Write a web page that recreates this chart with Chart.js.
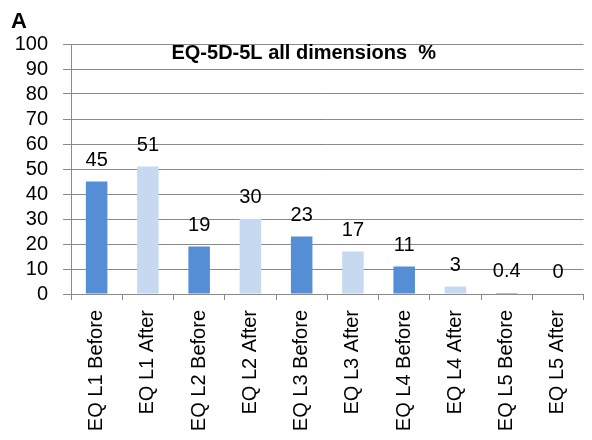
<!DOCTYPE html>
<html>
<head>
<meta charset="utf-8">
<script src="https://cdn.jsdelivr.net/npm/chart.js@4.4.1/dist/chart.umd.min.js"></script>
<style>
    html, body { margin: 0; padding: 0; background: #ffffff; }
    #wrap { width: 592px; height: 440px; position: relative; }
</style>
</head>
<body>
<div id="wrap"><canvas id="eqChart" width="592" height="440"></canvas></div>
<script>
// Chart data
const categories = [
    'EQ L1 Before', 'EQ L1 After',
    'EQ L2 Before', 'EQ L2 After',
    'EQ L3 Before', 'EQ L3 After',
    'EQ L4 Before', 'EQ L4 After',
    'EQ L5 Before', 'EQ L5 After',
]
const percentValues = [45, 51, 19, 30, 23, 17, 11, 3, 0.4, 0]
const valueLabels = ['45', '51', '19', '30', '23', '17', '11', '3', '0.4', '0']
const yTicks = [0, 10, 20, 30, 40, 50, 60, 70, 80, 90, 100]
const chartTitle = 'EQ-5D-5L all dimensions  %'
const panelLetter = 'A'

const darkBlue = '#558ed5'
const lightBlue = '#c6d9f1'
const gridGrey = '#8a8a8a'
const fontFamily = "'Liberation Sans', Arial, sans-serif"

const barColors = categories.map((c) =>
    c.endsWith('Before') ? darkBlue : lightBlue
)

// Value labels above bars, title and panel letter
const annotationPlugin = {
    id: 'annotationPlugin',
    afterDatasetsDraw(chart) {
        const ctx = chart.ctx
        const area = chart.chartArea
        ctx.save()
        ctx.fillStyle = '#000000'

        ctx.font = '20px ' + fontFamily
        ctx.textAlign = 'center'
        ctx.textBaseline = 'alphabetic'
        const meta = chart.getDatasetMeta(0)
        meta.data.forEach((bar, i) => {
            ctx.fillText(valueLabels[i], bar.x, bar.y - 16)
        })

        ctx.font = 'bold 20px ' + fontFamily
        ctx.fillText(chartTitle, area.left + (area.right - area.left) * 0.454, 59)

        ctx.font = 'bold 22px ' + fontFamily
        ctx.textAlign = 'left'
        ctx.fillText(panelLetter, 11, 28)
        ctx.restore()
    },
}

Chart.defaults.color = '#000000'
Chart.defaults.font = {
    family: fontFamily,
    size: 20,
}

const ctx = document.getElementById('eqChart').getContext('2d')

const eqChart = new Chart(ctx, {
    type: 'bar',
    data: {
        labels: categories,
        datasets: [
            {
                data: percentValues,
                backgroundColor: barColors,
                borderWidth: 0,
                barPercentage: 0.42,
                categoryPercentage: 1,
            },
        ],
    },
    plugins: [annotationPlugin],
    options: {
        responsive: false,
        animation: false,
        layout: {
            padding: { top: 44, right: 1, bottom: 0, left: 0 },
        },
        plugins: {
            legend: { display: false },
            tooltip: { enabled: false },
            title: { display: false },
        },
        scales: {
            x: {
                offset: true,
                grid: {
                    display: true,
                    offset: true,
                    drawOnChartArea: false,
                    color: gridGrey,
                    tickLength: 6,
                },
                border: { display: true, color: gridGrey },
                ticks: {
                    minRotation: 90,
                    maxRotation: 90,
                    autoSkip: false,
                    padding: 10,
                },
                afterFit(scale) {
                    scale.height = 146
                },
            },
            y: {
                min: 0,
                max: 100,
                afterBuildTicks(scale) {
                    scale.ticks = yTicks.map((v) => ({ value: v }))
                },
                grid: {
                    color: gridGrey,
                    tickLength: 8,
                },
                border: { display: true, color: gridGrey },
                ticks: {
                    autoSkip: false,
                    padding: 15,
                },
                afterFit(scale) {
                    scale.width = 71
                },
            },
        },
    },
})
</script>
</body>
</html>
